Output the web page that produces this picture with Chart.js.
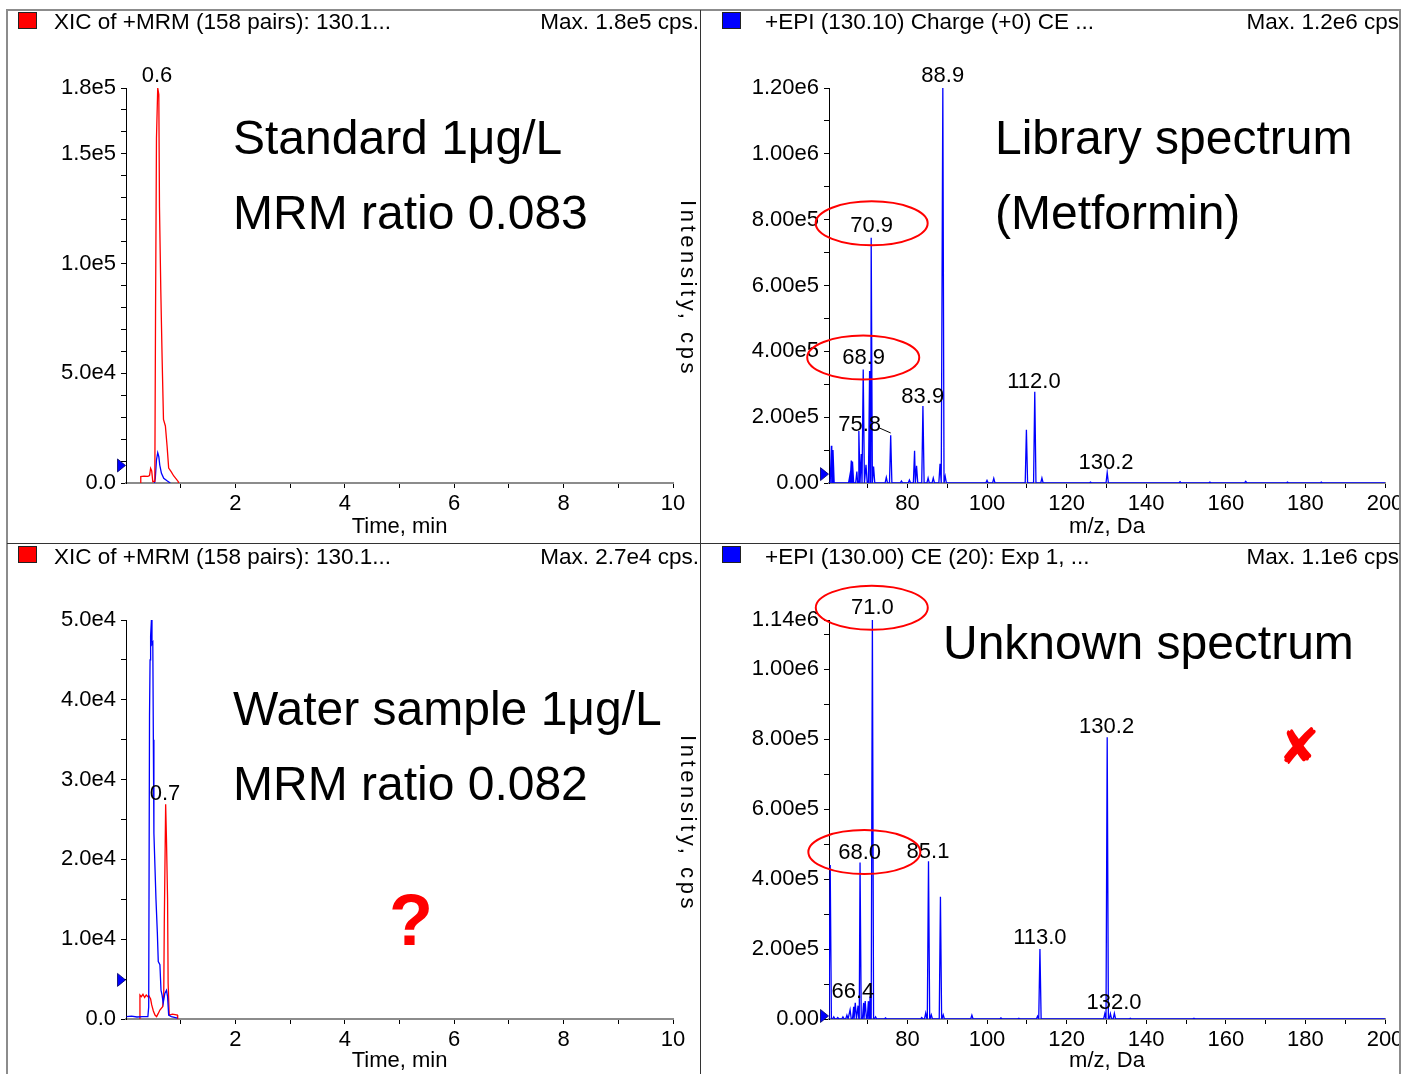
<!DOCTYPE html>
<html>
<head>
<meta charset="utf-8">
<title>Metformin MRM / EPI</title>
<script src="https://cdn.jsdelivr.net/npm/chart.js@4.4.0/dist/chart.umd.min.js"></script>
<style>
  html, body { margin: 0; padding: 0; background: #fff; }
  body { width: 1401px; height: 1074px; position: relative; overflow: hidden;
         font-family: 'Liberation Sans', Arial, sans-serif; color: #000; }
  canvas { position: absolute; }
  .t   { position: absolute; white-space: nowrap; line-height: 1; z-index: 2; }
  .hdr { font-size: 22.5px; }
  .big { font-size: 48px; }
  .sq  { position: absolute; width: 17px; height: 15px; border: 1px solid #222; z-index: 2; }
  .ln  { position: absolute; z-index: 3; }
  .ylab { position: absolute; writing-mode: vertical-rl; font-size: 22px; line-height: 22px;
          letter-spacing: 3.6px; white-space: nowrap; z-index: 2; }
</style>
</head>
<body>

<canvas id="cStd" width="693" height="533" style="left:7px;top:10px"></canvas>
<canvas id="cLib" width="701" height="533" style="left:700px;top:10px"></canvas>
<canvas id="cWat" width="693" height="531" style="left:7px;top:543px"></canvas>
<canvas id="cUnk" width="701" height="531" style="left:700px;top:543px"></canvas>

<!-- panel frame -->
<div class="ln" style="left:6px;top:9px;width:1395px;height:2px;background:#8c8c8c"></div>
<div class="ln" style="left:6px;top:9px;width:2px;height:1065px;background:#8c8c8c"></div>
<div class="ln" style="left:1399px;top:9px;width:2px;height:1065px;background:#8c8c8c"></div>
<div class="ln" style="left:700px;top:10px;width:1px;height:1064px;background:#333"></div>
<div class="ln" style="left:7px;top:543px;width:1393px;height:1px;background:#333"></div>

<!-- headers -->
<div class="sq" style="left:18px;top:12px;background:#ff0000"></div>
<div class="t hdr" style="left:54px;top:11px">XIC of +MRM (158 pairs): 130.1...</div>
<div class="t hdr" style="right:702px;top:11px">Max. 1.8e5 cps.</div>
<div class="sq" style="left:722px;top:12px;background:#0000ff"></div>
<div class="t hdr" style="left:765px;top:11px">+EPI (130.10) Charge (+0) CE ...</div>
<div class="t hdr" style="right:2px;top:11px">Max. 1.2e6 cps</div>

<div class="sq" style="left:18px;top:546px;background:#ff0000"></div>
<div class="t hdr" style="left:54px;top:546px">XIC of +MRM (158 pairs): 130.1...</div>
<div class="t hdr" style="right:702px;top:546px">Max. 2.7e4 cps.</div>
<div class="sq" style="left:722px;top:546px;background:#0000ff"></div>
<div class="t hdr" style="left:765px;top:546px">+EPI (130.00) CE (20): Exp 1, ...</div>
<div class="t hdr" style="right:2px;top:546px">Max. 1.1e6 cps</div>

<!-- y titles of the XIC panels -->
<div class="ylab" style="left:677px;top:200px">Intensity, cps</div>
<div class="ylab" style="left:677px;top:735px">Intensity, cps</div>

<!-- big annotations -->
<div class="t big" style="left:233px;top:114px">Standard 1μg/L</div>
<div class="t big" style="left:233px;top:189px">MRM ratio 0.083</div>
<div class="t big" style="left:995px;top:114px">Library spectrum</div>
<div class="t big" style="left:995px;top:189px">(Metformin)</div>
<div class="t big" style="left:233px;top:685px">Water sample 1μg/L</div>
<div class="t big" style="left:233px;top:760px">MRM ratio 0.082</div>
<div class="t big" style="left:943px;top:619px">Unknown spectrum</div>
<div class="t" style="left:389px;top:884px;font-size:72px;font-weight:bold;color:#ff0000">?</div>
<div class="t" style="left:1278px;top:722px;font-size:50px;font-family:'DejaVu Sans';color:#ff0000">✘</div>

<script>
/* ── XIC, standard 1 µg/L (time in min, intensity in cps) ── */
const stdRedTime  = [0.26, 0.27, 0.33, 0.40, 0.43, 0.45, 0.47, 0.49, 0.515, 0.527, 0.54, 0.557, 0.58, 0.60, 0.612, 0.636, 0.661, 0.685, 0.72, 0.752, 0.78, 0.825, 0.873, 0.92, 0.953, 0.96];
const stdRedInt   = [0, 2900, 3100, 3000, 3400, 6700, 5500, 600, 700, 1500, 77000, 157000, 180000, 177000, 126000, 88000, 56000, 29000, 26000, 16500, 6800, 5200, 3200, 1800, 700, 0];
const stdBlueTime = [0.52, 0.535, 0.557, 0.58, 0.60, 0.617, 0.648, 0.69, 0.75, 0.81];
const stdBlueInt  = [0, 2000, 10500, 13800, 12000, 8200, 4400, 2100, 1000, 0];

/* ── XIC, water sample ── */
const watBlueTime = [0.01, 0.1, 0.2, 0.3, 0.4, 0.415, 0.43, 0.44, 0.45, 0.465, 0.475, 0.49, 0.50, 0.51, 0.548, 0.573, 0.59, 0.62, 0.64, 0.66, 0.68, 0.71, 0.74, 0.76, 0.78, 0.83, 0.94];
const watBlueInt  = [300, 350, 250, 300, 300, 1500, 38000, 45000, 48000, 50000, 47000, 47200, 35000, 23300, 15000, 10800, 7200, 6800, 3600, 3000, 2000, 3200, 3600, 2800, 500, 300, 100];
const watRedTime  = [0.245, 0.255, 0.28, 0.31, 0.34, 0.37, 0.40, 0.42, 0.45, 0.47, 0.50, 0.53, 0.56, 0.59, 0.62, 0.67, 0.69, 0.70, 0.725, 0.74, 0.76, 0.77, 0.79, 0.85, 0.94, 0.945];
const watRedInt   = [0, 3000, 2800, 3100, 2700, 3000, 2800, 2900, 2500, 1760, 1000, 500, 300, 700, 1130, 1550, 3000, 12000, 26900, 22500, 15000, 4500, 500, 600, 500, 0];

/* ── EPI library spectrum (m/z, cps) ── */
const libMz  = [60.9, 61.3, 65.5, 65.9, 66.2, 67.3, 67.8, 68.4, 68.9, 69.6, 70.5, 70.9, 71.5, 74.7, 75.8, 78.5, 80.5, 81.8, 82.3, 83.9, 85.2, 86.5, 88.2, 88.9, 89.5, 100.0, 101.7, 109.9, 112.0, 113.8, 126.0, 130.2, 148.5, 156.0, 165.0, 175.5, 184.0];
const libInt = [113000, 100000, 20000, 68000, 65000, 35000, 158000, 88000, 345000, 55000, 340000, 745000, 50000, 17000, 145000, 6000, 9000, 98000, 52000, 234000, 15000, 15000, 58000, 1200000, 20000, 8000, 14000, 162000, 277000, 15000, 3000, 32000, 4000, 3000, 5000, 3000, 3000];

/* ── EPI unknown spectrum ── */
const unkMz  = [60.6, 61.5, 62.5, 63.8, 64.8, 65.6, 66.5, 66.9, 67.6, 68.1, 69.0, 69.4, 70.2, 70.6, 71.2, 72.0, 74.5, 83.6, 84.6, 85.3, 86.0, 88.3, 89.0, 96.2, 103.5, 108.0, 112.7, 113.3, 129.6, 130.2, 131.0, 132.0, 136.0, 152.0];
const unkInt = [440000, 6000, 4000, 6000, 11000, 26000, 35000, 46000, 38000, 447000, 46000, 51000, 51000, 64000, 1140000, 6000, 3000, 4000, 17000, 451000, 12000, 349000, 12000, 11000, 3000, 2000, 8000, 200000, 15000, 805000, 15000, 16000, 2000, 2000];

/* ── axes ── */
const timeTicks      = [1, 2, 3, 4, 5, 6, 7, 8, 9, 10];
const timeTickLabels = [2, 4, 6, 8, 10];
const mzTicks        = [70, 80, 90, 100, 110, 120, 130, 140, 150, 160, 170, 180, 190, 200];
const mzTickLabels   = [80, 100, 120, 140, 160, 180, 200];
const stdYTicks  = [0, 10000, 20000, 30000, 40000, 50000, 60000, 70000, 80000, 90000, 100000, 110000, 120000, 130000, 140000, 150000, 160000, 170000, 180000];
const stdYLabels = [0, 50000, 100000, 150000, 180000];
const watYTicks  = [0, 5000, 10000, 15000, 20000, 25000, 30000, 35000, 40000, 45000, 50000];
const watYLabels = [0, 10000, 20000, 30000, 40000, 50000];
const libYTicks  = [0, 100000, 200000, 300000, 400000, 500000, 600000, 700000, 800000, 900000, 1000000, 1100000, 1200000];
const libYLabels = [0, 200000, 400000, 600000, 800000, 1000000, 1200000];
const unkYTicks  = [0, 100000, 200000, 300000, 400000, 500000, 600000, 700000, 800000, 900000, 1000000, 1100000, 1140000];
const unkYLabels = [0, 200000, 400000, 600000, 800000, 1000000, 1140000];

/* ── peak annotations (text placed at data coordinates) ── */
const stdLabText = ['0.6'];   const stdLabX = [0.566]; const stdLabY = [186400];
const watLabText = ['0.7'];   const watLabX = [0.712]; const watLabY = [28450];
const libLabText = ['88.9', '70.9', '68.9', '83.9', '75.8', '112.0', '130.2'];
const libLabX    = [88.88, 71.02, 69.0, 83.85, 68.0, 111.8, 129.9];
const libLabY    = [1242500, 784000, 383000, 267000, 182000, 313000, 67000];
const unkLabText = ['71.0', '68.0', '85.1', '113.0', '130.2', '132.0', '66.4'];
const unkLabX    = [71.2, 68.0, 85.18, 113.28, 130.06, 131.9, 66.3];
const unkLabY    = [1178000, 478000, 483000, 237000, 840000, 49000, 81000];
const libCircX = [71.02, 68.9];  const libCircY = [789000, 381000];
const unkCircX = [71.05, 69.18]; const unkCircY = [1175000, 477000];
const libLeadX = [73.0, 75.8];   const libLeadY = [167000, 152000];

const FONT = { family: "'Liberation Sans', Arial, sans-serif", size: 22 };
const PEAK_HALF = 0.3;

function zip(xs, ys) { return xs.map((x, i) => ({ x, y: ys[i] })); }

/* stick spectrum -> polyline with a narrow triangle per peak */
function stickLine(mz, inten, lo, hi) {
  const pts = [{ x: lo, y: 0 }, { x: hi, y: 0 }];
  mz.forEach((m, i) => {
    pts.push({ x: m - PEAK_HALF, y: 0 }, { x: m, y: inten[i] }, { x: m + PEAK_HALF, y: 0 });
  });
  return pts.sort((a, b) => a.x - b.x);
}

function fmt(v, d) { return v === 0 ? (0).toFixed(d) : v.toExponential(d).replace('+', ''); }

/* labels, circles, leader line and the blue threshold marker */
const annotPlugin = {
  id: 'annot',
  afterDraw(chart, args, o) {
    const { ctx, chartArea } = chart;
    const x = chart.scales.x, y = chart.scales.y;
    ctx.save();
    if (o.marker != null) {
      const py = y.getPixelForValue(o.marker), px = chartArea.left - 0.5;
      ctx.beginPath();
      ctx.moveTo(px - 8, py - 6.5); ctx.lineTo(px, py); ctx.lineTo(px - 8, py + 6.5); ctx.closePath();
      ctx.fillStyle = '#0000ff'; ctx.fill();
      ctx.strokeStyle = '#000060'; ctx.lineWidth = 0.8; ctx.stroke();
    }
    ctx.font = "22px 'Liberation Sans', Arial, sans-serif";
    ctx.fillStyle = '#000'; ctx.textAlign = 'center'; ctx.textBaseline = 'middle';
    o.text.forEach((t, i) => ctx.fillText(t, x.getPixelForValue(o.tx[i]), y.getPixelForValue(o.ty[i]) + 1.5));
    if (o.lead) {
      ctx.beginPath(); ctx.strokeStyle = '#000'; ctx.lineWidth = 1;
      ctx.moveTo(x.getPixelForValue(o.lead[0][0]), y.getPixelForValue(o.lead[1][0]));
      ctx.lineTo(x.getPixelForValue(o.lead[0][1]), y.getPixelForValue(o.lead[1][1]));
      ctx.stroke();
    }
    if (o.circX) {
      ctx.strokeStyle = '#ff0000'; ctx.lineWidth = 2;
      o.circX.forEach((cx, i) => {
        ctx.beginPath();
        ctx.ellipse(x.getPixelForValue(cx), y.getPixelForValue(o.circY[i]), 56, 22, 0, 0, Math.PI * 2);
        ctx.stroke();
      });
    }
    ctx.restore();
  }
};

function makeChart(id, c) {
  return new Chart(document.getElementById(id), {
    type: 'line',
    data: {
      datasets: c.series.map(s => ({
        data: s.data, borderColor: s.color, borderWidth: 1.3,
        pointRadius: 0, tension: 0, fill: false,
      })),
    },
    options: {
      responsive: false,
      animation: false,
      events: [],
      layout: { padding: { top: c.padTop, right: c.padRight, bottom: 0, left: 0 } },
      plugins: { legend: { display: false }, tooltip: { enabled: false }, annot: c.annot },
      scales: {
        x: {
          type: 'linear', min: c.xMin, max: c.xMax,
          afterFit: s => { s.height = c.xH; s.paddingLeft = 0; s.paddingRight = 0; },
          afterBuildTicks: s => { s.ticks = c.xTicks.map(v => ({ value: v })); },
          ticks: { autoSkip: false, maxRotation: 0, color: '#000', font: FONT, padding: 3,
                   callback: v => c.xLabels.includes(v) ? String(v) : '' },
          grid: { drawOnChartArea: false, tickLength: 5, color: '#000' },
          border: { color: '#8c8c8c', width: 2 },
          title: { display: true, text: c.xTitle, color: '#000', font: FONT,
                   padding: { top: 0, bottom: c.titlePad } },
        },
        y: {
          type: 'linear', min: 0, max: c.yMax,
          afterFit: s => { s.width = c.yW; },
          afterBuildTicks: s => { s.ticks = c.yTicks.map(v => ({ value: v })); },
          ticks: { autoSkip: false, color: '#000', font: FONT, padding: 5,
                   callback: v => c.yLabels.includes(v) ? fmt(v, c.dec) : '' },
          grid: { drawOnChartArea: false, tickLength: 5, color: '#000' },
          border: { color: '#000', width: 1 },
        },
      },
    },
    plugins: [annotPlugin],
  });
}

makeChart('cStd', {
  series: [
    { data: zip(stdRedTime, stdRedInt), color: '#ff0000' },
    { data: zip(stdBlueTime, stdBlueInt), color: '#0000ff' },
  ],
  xMin: 0, xMax: 10, xTicks: timeTicks, xLabels: timeTickLabels, xTitle: 'Time, min',
  yMax: 180000, yTicks: stdYTicks, yLabels: stdYLabels, dec: 1,
  yW: 119, xH: 60, padTop: 78, padRight: 27, titlePad: 3,
  annot: { marker: 8000, text: stdLabText, tx: stdLabX, ty: stdLabY },
});

makeChart('cLib', {
  series: [{ data: stickLine(libMz, libInt, 60.3, 200), color: '#0000ff' }],
  xMin: 60.3, xMax: 200, xTicks: mzTicks, xLabels: mzTickLabels, xTitle: 'm/z, Da',
  yMax: 1200000, yTicks: libYTicks, yLabels: libYLabels, dec: 2,
  yW: 129, xH: 60, padTop: 78, padRight: 16, titlePad: 3,
  annot: { marker: 27000, text: libLabText, tx: libLabX, ty: libLabY,
           circX: libCircX, circY: libCircY, lead: [libLeadX, libLeadY] },
});

makeChart('cWat', {
  series: [
    { data: zip(watBlueTime, watBlueInt), color: '#0000ff' },
    { data: zip(watRedTime, watRedInt), color: '#ff0000' },
  ],
  xMin: 0, xMax: 10, xTicks: timeTicks, xLabels: timeTickLabels, xTitle: 'Time, min',
  yMax: 50000, yTicks: watYTicks, yLabels: watYLabels, dec: 1,
  yW: 119, xH: 55, padTop: 77, padRight: 27, titlePad: 0,
  annot: { marker: 4900, text: watLabText, tx: watLabX, ty: watLabY },
});

makeChart('cUnk', {
  series: [{ data: stickLine(unkMz, unkInt, 60.3, 200), color: '#0000ff' }],
  xMin: 60.3, xMax: 200, xTicks: mzTicks, xLabels: mzTickLabels, xTitle: 'm/z, Da',
  yMax: 1140000, yTicks: unkYTicks, yLabels: unkYLabels, dec: 2,
  yW: 129, xH: 55, padTop: 77, padRight: 16, titlePad: 0,
  annot: { marker: 8600, text: unkLabText, tx: unkLabX, ty: unkLabY,
           circX: unkCircX, circY: unkCircY },
});
</script>
</body>
</html>
